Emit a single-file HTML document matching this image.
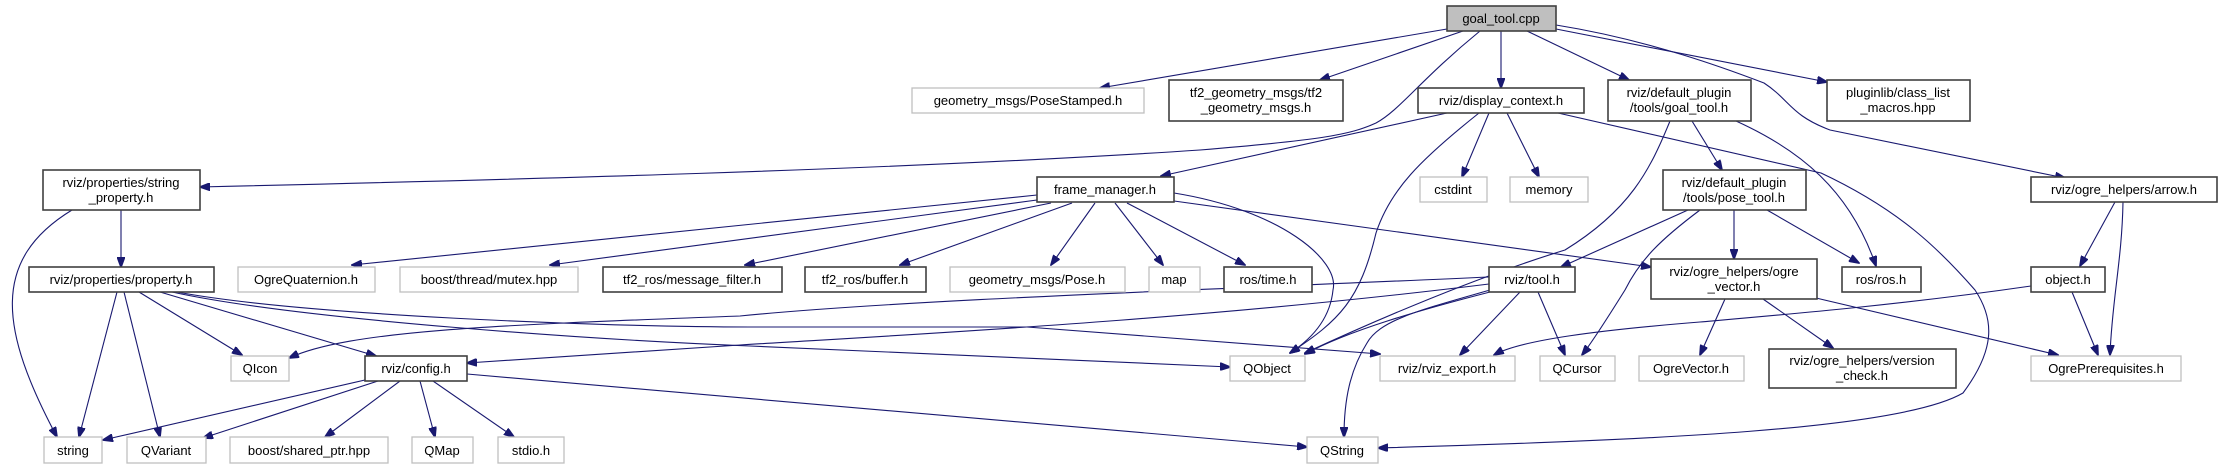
<!DOCTYPE html>
<html><head><meta charset="utf-8"><style>
html,body{margin:0;padding:0;background:#fff;}
svg{display:block;}
text{font-family:"Liberation Sans",sans-serif;font-size:13px;fill:#000;text-anchor:middle;}
.b{fill:#fff;stroke:#404040;stroke-width:1.6;}
.g{fill:#fff;stroke:#bfbfbf;stroke-width:1.3;}
.e{fill:none;stroke:#191970;stroke-width:1.1;}
</style></head><body>
<svg width="2223" height="469" viewBox="0 0 2223 469" xmlns="http://www.w3.org/2000/svg">
<defs><marker id="a" markerWidth="11" markerHeight="8" refX="10" refY="4" orient="auto" markerUnits="userSpaceOnUse"><path d="M0,0 L11,4 L0,8 z" fill="#191970" stroke="#191970"/></marker></defs>
<g class="e" marker-end="url(#a)">
<path d="M1447,29 L1100,88"/>
<path d="M1463,31 L1320,80"/>
<path d="M1480,31 C1420,80 1400,110 1376,123 C1350,135 1320,140 1200,150 C900,170 500,180 200,187"/>
<path d="M1501,31 L1501,88"/>
<path d="M1527,31 L1629,80"/>
<path d="M1556,29 L1827,82"/>
<path d="M1556,25 C1650,40 1730,70 1764,83 C1790,100 1790,115 1830,130 L2065,178"/>
<path d="M1447,113 L1161,176"/>
<path d="M1479,113 C1420,160 1390,190 1376,233 C1360,300 1340,320 1290,353"/>
<path d="M1489,113 L1462,177"/>
<path d="M1507,113 L1539,177"/>
<path d="M1558,113 L1821,173 C1900,210 1940,250 1975,290 C1995,320 1995,350 1963,393 C1900,430 1650,440 1378,448"/>
<path d="M1670,121 C1650,170 1630,210 1565,250 C1500,270 1420,300 1305,353"/>
<path d="M1692,121 L1722,170"/>
<path d="M1736,121 C1800,150 1850,190 1876,266"/>
<path d="M1037,195 L352,265"/>
<path d="M1037,200 L550,265"/>
<path d="M1051,203 L745,265"/>
<path d="M1072,203 L900,265"/>
<path d="M1095,203 L1051,265"/>
<path d="M1115,203 L1163,265"/>
<path d="M1127,203 L1245,265"/>
<path d="M1174,193 C1280,210 1340,260 1333,290 C1330,320 1310,340 1290,353"/>
<path d="M1174,201 L1651,267"/>
<path d="M72,210 C-10,260 0,330 57,437"/>
<path d="M121,210 L121,267"/>
<path d="M117,292 L79,437"/>
<path d="M124,292 L160,437"/>
<path d="M139,292 L242,355"/>
<path d="M160,292 L376,356"/>
<path d="M172,292 C300,320 600,340 750,346 L1230,367"/>
<path d="M177,292 C300,315 600,327 750,327 L1027,327 L1380,354"/>
<path d="M1489,277 C1200,290 900,300 740,316 C500,325 350,330 289,358"/>
<path d="M1489,284 C1200,320 900,335 740,345 L467,363"/>
<path d="M1490,292 C1420,310 1350,330 1305,354"/>
<path d="M1520,292 L1460,355"/>
<path d="M1538,292 L1565,355"/>
<path d="M1490,290 C1420,310 1380,320 1367,343 C1350,370 1344,400 1344,437"/>
<path d="M365,380 L103,440"/>
<path d="M378,381 L203,438"/>
<path d="M400,381 L325,437"/>
<path d="M420,381 L435,437"/>
<path d="M433,381 L514,437"/>
<path d="M467,374 L1307,447"/>
<path d="M1688,210 L1561,267"/>
<path d="M1700,210 C1660,240 1640,260 1625,290 C1600,330 1590,345 1582,355"/>
<path d="M1734,210 L1734,259"/>
<path d="M1767,210 L1859,263"/>
<path d="M1725,299 L1700,355"/>
<path d="M1763,299 L1833,348"/>
<path d="M1816,298 L2058,355"/>
<path d="M2115,202 L2080,266"/>
<path d="M2123,202 C2122,260 2112,300 2110,355"/>
<path d="M2072,292 L2098,355"/>
<path d="M2031,286 C1900,305 1780,315 1700,322 C1600,330 1520,340 1494,355"/>
</g>
<rect x="1447" y="6" width="109" height="25" fill="#bfbfbf" stroke="#404040" stroke-width="1.6"/><text x="1501" y="23">goal_tool.cpp</text>
<rect class="g" x="912" y="88" width="232" height="25"/><text x="1028" y="105">geometry_msgs/PoseStamped.h</text>
<rect class="b" x="1169" y="80" width="174" height="41"/><text x="1256" y="97">tf2_geometry_msgs/tf2</text><text x="1256" y="112">_geometry_msgs.h</text>
<rect class="b" x="1418" y="88" width="166" height="25"/><text x="1501" y="105">rviz/display_context.h</text>
<rect class="b" x="1608" y="80" width="143" height="41"/><text x="1679" y="97">rviz/default_plugin</text><text x="1679" y="112">/tools/goal_tool.h</text>
<rect class="b" x="1827" y="80" width="143" height="41"/><text x="1898" y="97">pluginlib/class_list</text><text x="1898" y="112">_macros.hpp</text>
<rect class="b" x="43" y="170" width="157" height="40"/><text x="121" y="187">rviz/properties/string</text><text x="121" y="202">_property.h</text>
<rect class="b" x="1037" y="177" width="137" height="25"/><text x="1105" y="194">frame_manager.h</text>
<rect class="g" x="1420" y="177" width="67" height="25"/><text x="1453" y="194">cstdint</text>
<rect class="g" x="1510" y="177" width="78" height="25"/><text x="1549" y="194">memory</text>
<rect class="b" x="1663" y="170" width="143" height="40"/><text x="1734" y="187">rviz/default_plugin</text><text x="1734" y="202">/tools/pose_tool.h</text>
<rect class="b" x="2031" y="177" width="186" height="25"/><text x="2124" y="194">rviz/ogre_helpers/arrow.h</text>
<rect class="b" x="29" y="267" width="185" height="25"/><text x="121" y="284">rviz/properties/property.h</text>
<rect class="g" x="238" y="267" width="137" height="25"/><text x="306" y="284">OgreQuaternion.h</text>
<rect class="g" x="400" y="267" width="178" height="25"/><text x="489" y="284">boost/thread/mutex.hpp</text>
<rect class="b" x="603" y="267" width="179" height="25"/><text x="692" y="284">tf2_ros/message_filter.h</text>
<rect class="b" x="805" y="267" width="121" height="25"/><text x="865" y="284">tf2_ros/buffer.h</text>
<rect class="g" x="950" y="267" width="175" height="25"/><text x="1037" y="284">geometry_msgs/Pose.h</text>
<rect class="g" x="1149" y="267" width="51" height="25"/><text x="1174" y="284">map</text>
<rect class="b" x="1224" y="267" width="88" height="25"/><text x="1268" y="284">ros/time.h</text>
<rect class="b" x="1489" y="267" width="86" height="25"/><text x="1532" y="284">rviz/tool.h</text>
<rect class="b" x="1651" y="259" width="166" height="40"/><text x="1734" y="276">rviz/ogre_helpers/ogre</text><text x="1734" y="291">_vector.h</text>
<rect class="b" x="1842" y="267" width="79" height="25"/><text x="1881" y="284">ros/ros.h</text>
<rect class="b" x="2031" y="267" width="74" height="25"/><text x="2068" y="284">object.h</text>
<rect class="g" x="231" y="356" width="58" height="25"/><text x="260" y="373">QIcon</text>
<rect class="b" x="365" y="356" width="102" height="25"/><text x="416" y="373">rviz/config.h</text>
<rect class="g" x="1230" y="356" width="75" height="25"/><text x="1267" y="373">QObject</text>
<rect class="g" x="1380" y="356" width="135" height="25"/><text x="1447" y="373">rviz/rviz_export.h</text>
<rect class="g" x="1540" y="356" width="75" height="25"/><text x="1577" y="373">QCursor</text>
<rect class="g" x="1639" y="356" width="105" height="25"/><text x="1691" y="373">OgreVector.h</text>
<rect class="b" x="1769" y="349" width="187" height="39"/><text x="1862" y="365">rviz/ogre_helpers/version</text><text x="1862" y="380">_check.h</text>
<rect class="g" x="2031" y="356" width="150" height="25"/><text x="2106" y="373">OgrePrerequisites.h</text>
<rect class="g" x="44" y="437" width="58" height="26"/><text x="73" y="455">string</text>
<rect class="g" x="127" y="437" width="79" height="26"/><text x="166" y="455">QVariant</text>
<rect class="g" x="230" y="437" width="158" height="26"/><text x="309" y="455">boost/shared_ptr.hpp</text>
<rect class="g" x="412" y="437" width="61" height="26"/><text x="442" y="455">QMap</text>
<rect class="g" x="498" y="437" width="66" height="26"/><text x="531" y="455">stdio.h</text>
<rect class="g" x="1307" y="437" width="71" height="26"/><text x="1342" y="455">QString</text>
</svg>
</body></html>
